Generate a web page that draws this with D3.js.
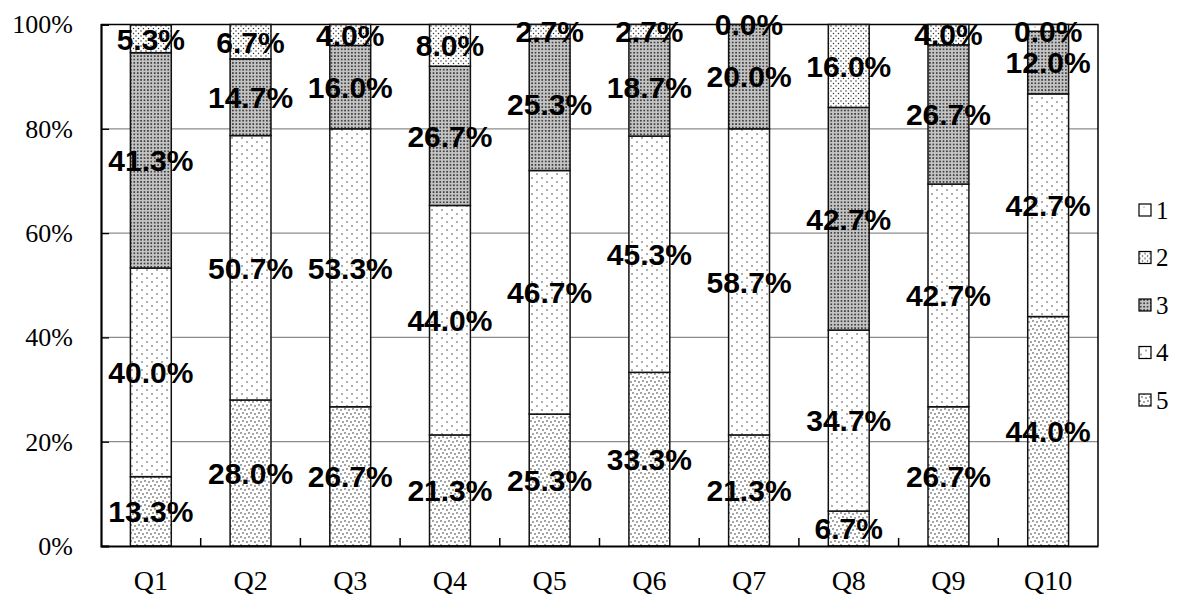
<!DOCTYPE html>
<html>
<head>
<meta charset="utf-8">
<script src="https://cdn.jsdelivr.net/npm/d3@7"></script>
<style>
  html, body { margin: 0; padding: 0; background: #fff; }
  svg { display: block; }
</style>
</head>
<body>
<svg id="chart" width="1178" height="595"></svg>
<script>
// Survey answers per question, share of respondents (%) for each answer 1–5
const categories = ["Q1", "Q2", "Q3", "Q4", "Q5", "Q6", "Q7", "Q8", "Q9", "Q10"];
const answer5 = [13.3, 28.0, 26.7, 21.3, 25.3, 33.3, 21.3, 6.7, 26.7, 44.0];
const answer4 = [40.0, 50.7, 53.3, 44.0, 46.7, 45.3, 58.7, 34.7, 42.7, 42.7];
const answer3 = [41.3, 14.7, 16.0, 26.7, 25.3, 18.7, 20.0, 42.7, 26.7, 12.0];
const answer2 = [5.3, 6.7, 4.0, 8.0, 2.7, 2.7, 0.0, 16.0, 4.0, 0.0];
const answer1 = [0.0, 0.0, 0.0, 0.0, 0.0, 0.0, 0.0, 0.0, 0.0, 1.3];
const legendLabels = ["1", "2", "3", "4", "5"];
const yTicks = [0, 20, 40, 60, 80, 100];

const seriesValues = { "1": answer1, "2": answer2, "3": answer3, "4": answer4, "5": answer5 };
const stackOrder = ["5", "4", "3", "2", "1"];      // bottom to top
const labelledSeries = new Set(["5", "4", "3", "2"]);

const rows = categories.map((c, i) => {
  const r = { cat: c };
  for (const k of stackOrder) r[k] = seriesValues[k][i];
  return r;
});

const svg = d3.select("#chart");
const plot = { left: 101, right: 1098, top: 24.5, bottom: 546 };
const serif = "'Liberation Serif', 'Times New Roman', serif";

const x = d3.scaleBand().domain(categories).range([plot.left, plot.right]).padding(0);
const barFrac = 0.41;
const y = d3.scaleLinear().domain([0, 100]).range([plot.bottom, plot.top]);

// Dot-screen fills, one per answer
const defs = svg.append("defs");
function dotPattern(id, w, h, bg, dots, r, color) {
  const p = defs.append("pattern").attr("id", id)
    .attr("patternUnits", "userSpaceOnUse").attr("width", w).attr("height", h);
  p.append("rect").attr("width", w).attr("height", h).attr("fill", bg);
  dots.forEach(([cx, cy]) => p.append("circle").attr("cx", cx).attr("cy", cy).attr("r", r).attr("fill", color));
}
dotPattern("pat1", 10, 10, "#fff", [[5, 7]], 0.6, "#555");
dotPattern("pat2", 5, 5, "#fff", [[1, 1], [3.5, 3.5]], 0.75, "#333");
dotPattern("pat3", 3.4, 3.4, "#c4c4c4", [[1.7, 1.7]], 0.9, "#222");
dotPattern("pat4", 10, 8, "#fff", [[2, 2], [7, 6]], 0.7, "#222");
dotPattern("pat5", 8, 8, "#fff", [[1, 1], [5, 2], [3, 5], [7, 6]], 0.8, "#333");

// Horizontal gridlines
svg.append("g").selectAll("line")
  .data(yTicks.filter(t => t > 0 && t < 100))
  .join("line")
  .attr("x1", plot.left).attr("x2", plot.right)
  .attr("y1", d => y(d)).attr("y2", d => y(d))
  .attr("stroke", "#8c8c8c").attr("stroke-width", 1.3);

// Plot frame (top and right)
svg.append("path")
  .attr("d", `M${plot.left},${plot.top}H${plot.right}V${plot.bottom}`)
  .attr("fill", "none").attr("stroke", "#000").attr("stroke-width", 1.5);

// Stacked bars
const stacked = d3.stack().keys(stackOrder)(rows);
const barW = x.bandwidth() * barFrac;
const barX = c => x(c) + (x.bandwidth() - barW) / 2;

const layers = svg.append("g").selectAll("g")
  .data(stacked).join("g")
  .attr("fill", d => `url(#pat${d.key})`);

layers.selectAll("rect")
  .data(d => d).join("rect")
  .attr("x", d => barX(d.data.cat))
  .attr("width", barW)
  .attr("y", d => y(Math.min(d[1], 100)))
  .attr("height", d => Math.max(0, y(d[0]) - y(Math.min(d[1], 100))))
  .attr("stroke", "#111").attr("stroke-width", 1.5);

// Y axis with inward ticks
const yAxis = svg.append("g")
  .attr("transform", `translate(${plot.left},0)`)
  .call(d3.axisLeft(y).tickValues(yTicks).tickFormat(d => d + "%").tickSize(-8).tickPadding(28));
yAxis.select(".domain").attr("stroke", "#000").attr("stroke-width", 2.2);
yAxis.selectAll(".tick line").attr("stroke", "#000").attr("stroke-width", 1.3);
yAxis.selectAll("text")
  .attr("font-family", serif)
  .attr("font-size", 26).attr("fill", "#000");

// X axis: category labels, ticks between categories pointing up
const xAxis = svg.append("g")
  .attr("transform", `translate(0,${plot.bottom})`)
  .call(d3.axisBottom(x).tickSize(0).tickPadding(24));
xAxis.select(".domain").attr("stroke", "#000").attr("stroke-width", 2.2);
xAxis.selectAll("text")
  .attr("font-family", serif)
  .attr("font-size", 28).attr("fill", "#000");
svg.append("g").selectAll("line")
  .data(categories.slice(1))
  .join("line")
  .attr("x1", d => x(d)).attr("x2", d => x(d))
  .attr("y1", plot.bottom).attr("y2", plot.bottom - 8)
  .attr("stroke", "#000").attr("stroke-width", 1.5);

// Value labels centred in each segment
const labelData = stacked.filter(s => labelledSeries.has(s.key))
  .flatMap(s => s.map(d => ({ cat: d.data.cat, v: d.data[s.key], mid: (d[0] + Math.min(d[1], 100)) / 2 })));
svg.append("g").selectAll("text")
  .data(labelData).join("text")
  .attr("x", d => x(d.cat) + x.bandwidth() / 2)
  .attr("y", d => y(d.mid))
  .attr("dy", "0.36em")
  .attr("text-anchor", "middle")
  .attr("font-family", "'Liberation Sans', Arial, sans-serif")
  .attr("font-weight", "bold")
  .attr("font-size", 30)
  .attr("fill", "#000")
  .text(d => d.v.toFixed(1) + "%");

// Legend
const legend = svg.append("g").selectAll("g")
  .data(legendLabels).join("g")
  .attr("transform", (d, i) => `translate(1139,${210 + i * 47.5})`);
legend.append("rect")
  .attr("x", 0).attr("y", -6).attr("width", 12).attr("height", 12)
  .attr("fill", d => `url(#pat${d})`).attr("stroke", "#000").attr("stroke-width", 1.2);
legend.append("text")
  .attr("x", 17).attr("y", 0).attr("dy", "0.35em")
  .attr("font-family", serif)
  .attr("font-size", 25).attr("fill", "#000")
  .text(d => d);
</script>
</body>
</html>
